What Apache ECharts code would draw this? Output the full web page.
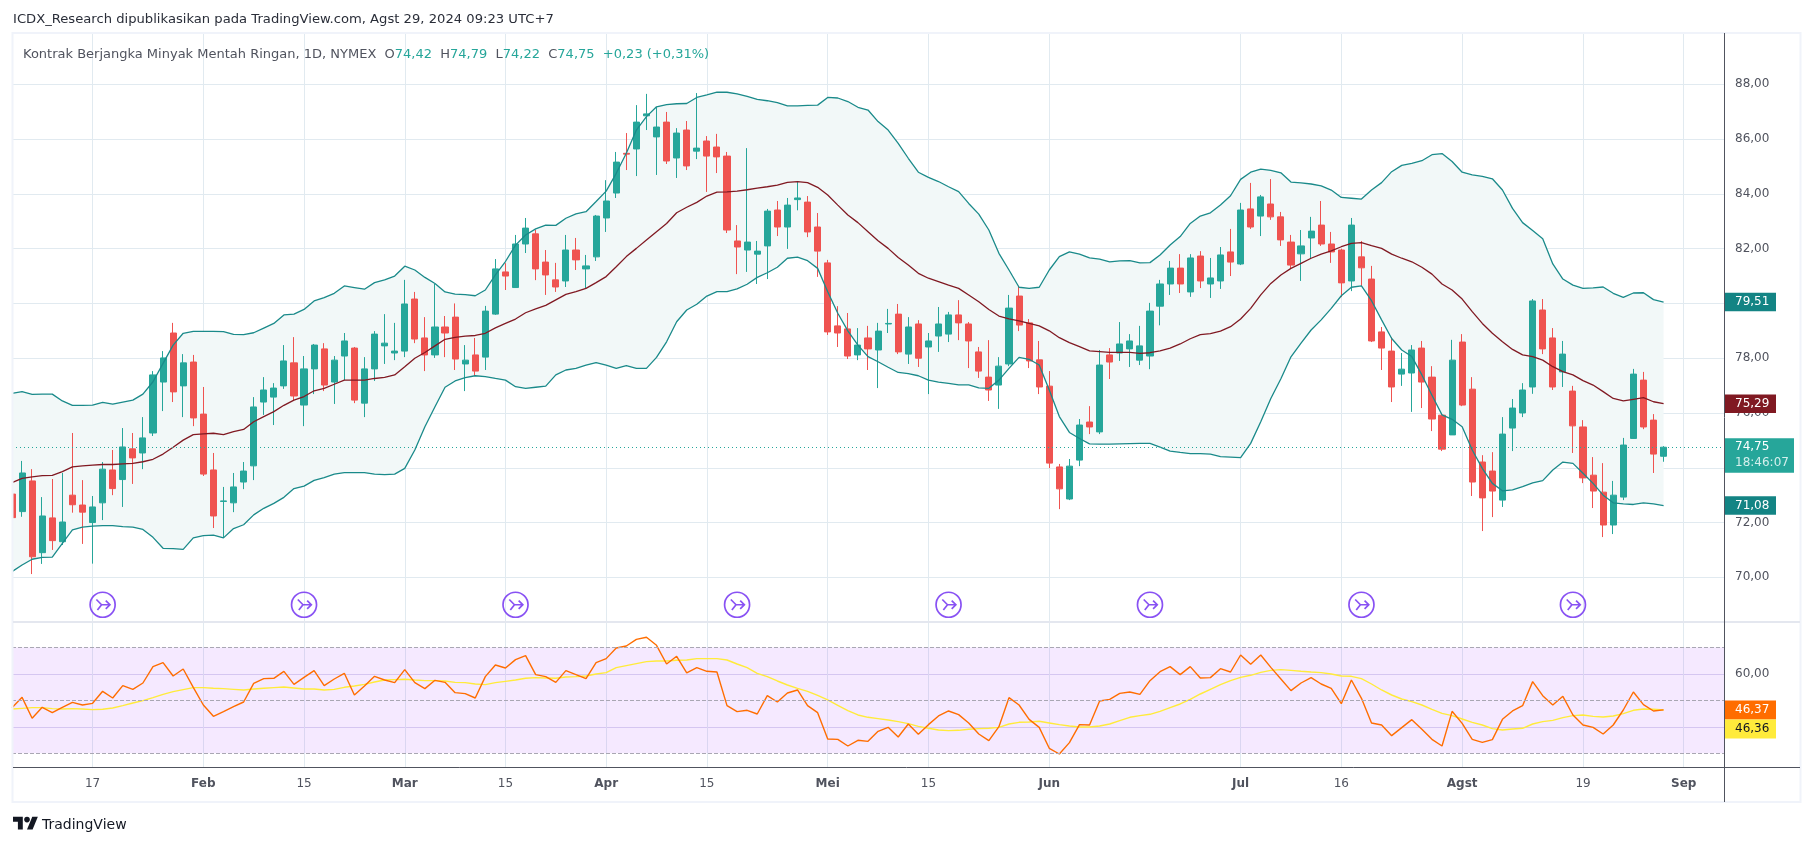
<!DOCTYPE html>
<html><head><meta charset="utf-8"><style>html,body{margin:0;padding:0;background:#fff;overflow:hidden}#c{width:1814px;height:846px}</style>
<script src="https://cdn.jsdelivr.net/npm/echarts@6/dist/echarts.min.js"></script></head><body><div id="c"></div>
<script>
const opens=[73.04,72.40,73.52,70.90,72.17,71.30,73.00,72.64,72.00,72.72,73.92,73.57,74.69,74.54,75.27,77.13,78.92,76.99,77.86,75.96,73.92,72.77,72.72,73.48,74.07,76.40,76.58,76.99,77.83,76.29,77.61,78.34,77.13,78.08,78.37,76.36,77.61,78.45,78.19,78.26,80.16,78.74,78.12,79.14,79.50,77.79,78.12,78.04,79.61,81.15,80.58,82.17,82.54,81.51,80.86,80.82,81.95,81.26,81.70,83.12,84.03,85.48,85.64,86.85,86.08,86.62,85.31,86.33,85.56,85.93,85.71,85.38,82.28,81.95,81.80,82.10,83.41,82.79,83.79,83.70,82.79,81.48,79.18,79.07,78.12,78.74,78.30,79.25,79.61,78.15,79.25,78.41,78.81,78.88,79.58,79.25,78.23,77.31,77.02,77.79,80.27,79.29,77.94,76.98,74.03,72.86,74.28,75.67,75.31,78.12,78.19,78.34,77.93,78.08,79.90,80.71,81.29,80.42,81.73,80.71,80.82,81.88,81.44,83.45,83.19,83.63,83.16,82.24,81.81,82.39,82.86,82.17,81.95,80.82,81.70,80.89,78.96,78.26,77.42,77.46,78.37,77.31,75.92,75.20,78.59,76.87,74.21,73.88,72.82,75.45,76.00,76.95,79.76,78.74,77.50,76.80,75.49,73.73,73.11,71.91,72.93,75.07,77.20,75.74,74.42];
const closes=[72.18,73.81,70.75,72.24,71.34,72.02,72.65,72.38,72.57,73.95,73.24,74.76,74.36,75.09,77.39,78.01,76.77,77.83,75.82,73.77,72.24,72.79,73.30,73.88,76.22,76.84,76.91,77.90,76.62,77.61,78.48,77.02,77.93,78.63,76.47,77.61,78.88,78.55,78.26,79.98,78.70,78.12,79.14,78.92,77.97,77.93,77.53,79.72,81.26,81.00,82.17,82.75,81.26,81.04,80.60,81.95,81.59,81.37,83.19,83.74,85.16,85.45,86.62,86.92,86.44,85.20,86.22,85.02,85.67,85.38,85.35,82.68,82.06,82.24,81.91,83.37,82.79,83.59,83.85,82.61,81.91,78.96,78.92,78.08,78.48,78.34,78.99,79.27,78.23,79.14,78.00,78.63,79.25,79.58,79.29,78.63,77.53,76.84,77.71,79.83,79.21,77.90,76.95,74.17,73.23,74.06,75.56,75.49,77.75,77.86,78.52,78.63,78.45,79.72,80.71,81.29,80.71,81.66,80.82,80.93,81.77,81.51,83.41,82.79,83.89,83.16,82.32,81.40,82.10,82.64,82.17,81.88,80.75,82.86,81.30,78.63,78.37,76.95,77.60,78.30,77.13,75.78,74.68,77.93,76.29,73.48,72.90,73.15,75.23,76.18,76.84,80.09,78.34,76.95,78.15,75.53,73.63,73.15,71.91,73.00,74.83,77.42,75.49,74.50,74.75];
const highs=[73.40,74.25,73.95,72.93,73.59,73.81,75.27,73.55,72.97,74.21,74.65,75.45,75.27,75.85,77.53,78.26,79.29,78.15,78.12,76.95,74.54,73.30,73.81,74.21,76.58,77.31,77.09,78.48,78.77,78.08,78.52,78.55,78.08,78.92,78.41,78.04,78.99,79.61,79.29,80.86,80.42,79.50,80.71,79.54,80.00,78.48,78.74,79.91,81.62,81.47,82.50,83.12,82.68,81.95,81.48,82.50,82.39,81.77,83.23,84.50,85.53,86.22,87.24,87.65,87.17,86.99,86.40,86.66,87.68,86.11,86.19,85.53,82.86,85.67,82.28,83.45,83.74,83.85,84.43,83.92,83.30,81.59,79.90,79.65,79.10,79.18,79.29,79.80,79.98,79.50,79.39,78.92,79.87,79.69,80.12,79.32,78.41,78.66,78.04,80.31,80.64,79.43,78.63,77.53,74.14,74.32,75.78,76.25,78.30,78.37,79.32,78.88,79.18,80.02,80.86,81.55,81.80,81.80,81.91,81.66,82.06,82.72,83.67,84.40,83.96,84.54,83.34,82.50,82.68,83.16,83.74,82.61,82.00,83.12,82.28,81.37,79.14,78.77,78.19,78.48,78.63,77.71,75.95,78.67,78.88,77.31,74.46,74.57,75.85,76.51,77.09,80.16,80.16,79.10,78.63,76.99,75.74,74.39,74.17,73.52,75.09,77.61,77.50,75.96,74.79];
const lows=[71.90,72.21,70.12,70.49,71.00,71.18,72.36,71.22,70.50,72.09,73.00,72.57,73.41,73.95,75.16,76.07,76.40,75.85,75.52,73.70,71.80,71.44,72.38,73.22,73.55,75.93,75.56,76.88,76.47,75.52,76.69,76.80,76.33,77.20,76.36,75.85,77.17,77.79,77.93,78.04,78.55,77.53,78.01,78.04,77.57,76.80,77.35,77.57,79.58,80.49,80.58,81.84,80.85,80.31,80.42,80.60,81.22,80.56,81.55,82.61,83.85,84.87,84.65,86.33,84.69,85.09,84.58,84.87,85.27,84.07,84.76,82.57,81.07,81.15,80.71,80.89,82.46,81.99,83.40,82.42,80.97,78.85,78.41,77.97,77.93,77.57,76.91,78.92,78.15,77.79,77.68,76.69,78.23,78.59,78.66,77.64,77.28,76.44,76.15,77.71,78.99,77.64,76.69,73.99,72.49,72.82,74.06,75.23,75.23,77.24,77.90,77.68,77.75,77.60,79.20,80.31,80.38,80.24,80.56,80.20,80.53,81.00,81.40,82.72,82.46,83.05,82.10,81.26,80.82,81.66,82.10,81.48,80.23,80.45,80.64,78.59,77.57,76.40,76.99,76.04,76.18,75.34,74.61,75.20,76.25,72.97,71.69,72.20,72.57,74.61,75.85,76.70,78.15,76.84,76.95,74.54,73.44,72.53,71.47,71.58,72.82,75.05,75.41,73.81,74.22];
const bbUpper=[76.72,76.78,76.68,76.69,76.69,76.44,76.28,76.28,76.29,76.39,76.32,76.40,76.47,76.69,77.14,77.81,78.48,78.91,78.98,78.98,78.98,78.97,78.87,78.86,78.93,79.10,79.27,79.58,79.61,79.78,80.09,80.21,80.37,80.64,80.58,80.52,80.76,80.86,81.00,81.36,81.22,80.95,80.73,80.42,80.34,80.32,80.28,80.49,81.04,81.53,82.13,82.50,82.72,82.86,82.85,83.11,83.27,83.35,83.72,84.10,84.75,85.48,86.33,86.82,87.18,87.26,87.29,87.30,87.52,87.61,87.71,87.71,87.65,87.56,87.45,87.40,87.33,87.21,87.21,87.23,87.24,87.52,87.50,87.37,87.16,87.06,86.64,86.33,85.84,85.30,84.79,84.60,84.45,84.26,84.08,83.65,83.26,82.68,81.83,81.22,80.59,80.55,80.59,81.22,81.71,81.88,81.80,81.66,81.62,81.52,81.55,81.56,81.48,81.49,81.77,82.13,82.44,82.92,83.19,83.31,83.59,83.93,84.53,84.79,84.90,84.86,84.77,84.43,84.40,84.36,84.29,84.14,83.87,83.84,83.81,84.14,84.41,84.81,85.04,85.11,85.21,85.43,85.47,85.18,84.79,84.69,84.64,84.55,84.14,83.47,82.95,82.66,82.36,81.44,80.89,80.67,80.55,80.57,80.60,80.37,80.22,80.38,80.39,80.14,80.05];
const bbBasis=[73.46,73.61,73.67,73.71,73.72,73.86,74.03,74.07,74.10,74.12,74.12,74.14,74.16,74.22,74.31,74.50,74.75,75.01,75.21,75.24,75.26,75.21,75.32,75.40,75.68,75.87,76.05,76.28,76.47,76.60,76.81,76.90,77.05,77.20,77.20,77.20,77.26,77.30,77.39,77.69,78.00,78.21,78.45,78.69,78.76,78.81,78.83,78.91,79.11,79.27,79.43,79.66,79.80,79.93,80.13,80.33,80.43,80.55,80.76,80.98,81.34,81.71,82.01,82.32,82.62,82.92,83.31,83.51,83.69,83.92,84.06,84.07,84.10,84.15,84.21,84.26,84.32,84.42,84.45,84.41,84.24,83.96,83.59,83.23,82.95,82.62,82.29,82.01,81.68,81.40,81.10,80.92,80.80,80.67,80.55,80.31,80.06,79.78,79.54,79.44,79.36,79.27,79.18,79.00,78.75,78.57,78.42,78.27,78.24,78.21,78.21,78.21,78.18,78.20,78.27,78.37,78.52,78.71,78.86,78.90,78.99,79.15,79.43,79.82,80.31,80.73,81.04,81.28,81.46,81.65,81.80,81.92,82.07,82.19,82.22,82.11,82.01,81.80,81.65,81.52,81.32,81.07,80.71,80.49,80.16,79.70,79.27,78.91,78.60,78.32,78.12,78.06,77.93,77.69,77.51,77.39,77.18,77.02,76.78,76.53,76.44,76.50,76.56,76.41,76.34];
const bbLower=[70.21,70.45,70.66,70.73,70.74,71.24,71.73,71.83,71.87,71.89,71.89,71.85,71.83,71.75,71.46,71.06,71.05,71.02,71.44,71.52,71.54,71.44,71.78,71.92,72.28,72.52,72.70,72.92,73.24,73.33,73.54,73.64,73.77,73.82,73.82,73.82,73.77,73.75,73.77,73.98,74.65,75.50,76.23,76.94,77.17,77.29,77.36,77.33,77.26,77.20,76.96,76.90,76.94,76.98,77.39,77.57,77.63,77.75,77.84,77.75,77.63,77.73,77.63,77.63,78.03,78.60,79.33,79.76,79.97,80.27,80.43,80.43,80.53,80.70,80.95,81.12,81.32,81.65,81.69,81.56,81.28,80.43,79.64,79.00,78.48,78.06,77.87,77.67,77.48,77.44,77.36,77.20,77.13,77.08,77.03,77.03,76.92,76.90,77.20,77.63,78.03,77.96,77.75,76.84,75.87,75.29,75.07,74.87,74.86,74.86,74.87,74.88,74.89,74.89,74.75,74.61,74.56,74.52,74.52,74.50,74.41,74.39,74.37,74.89,75.68,76.53,77.25,78.05,78.55,79.03,79.40,79.82,80.28,80.59,80.64,80.10,79.40,78.72,78.30,78.06,77.39,76.65,75.93,75.77,75.50,74.65,73.98,73.43,73.16,73.19,73.31,73.45,73.53,73.92,74.21,74.16,73.80,73.43,73.00,72.72,72.68,72.66,72.72,72.68,72.62];
const rsi=[47.22,51.12,43.20,47.35,45.34,47.35,49.24,48.23,48.86,53.39,50.87,55.53,54.14,56.53,62.70,64.21,59.17,61.82,54.90,48.23,43.95,45.72,47.60,49.36,56.41,58.17,58.30,60.94,56.03,58.67,61.19,55.53,58.04,60.18,52.00,55.40,59.05,57.66,56.66,61.56,56.66,54.40,57.54,56.78,52.89,52.51,50.87,58.92,63.32,62.19,65.34,66.85,59.68,58.92,56.78,61.19,59.68,58.17,64.21,65.72,69.74,70.50,73.01,73.77,70.75,63.70,66.60,60.31,62.32,60.94,60.68,47.98,45.72,46.22,44.83,51.75,49.36,52.76,53.89,47.98,45.34,35.40,35.27,32.76,34.90,34.52,38.30,39.80,36.16,41.06,37.16,40.81,44.08,45.97,44.58,41.44,37.29,34.77,40.05,51.00,48.23,42.82,39.80,31.88,29.74,34.02,40.81,40.68,49.74,50.37,52.63,53.14,52.26,57.41,60.81,62.70,59.68,62.70,58.42,58.55,61.94,60.68,67.10,63.58,67.10,62.44,58.04,53.64,56.53,58.55,56.15,54.52,48.73,57.66,50.75,41.44,40.68,36.66,39.68,42.69,39.05,35.27,32.76,45.84,41.31,35.27,34.14,35.15,42.82,45.97,47.98,57.04,51.75,48.23,51.50,44.46,40.68,39.80,37.29,40.68,46.34,53.14,48.36,45.97,46.37];
const rsiMa=[46.72,46.97,47.22,47.22,46.85,46.72,46.85,46.72,46.47,46.60,47.10,47.98,48.99,49.86,50.99,52.26,53.26,54.02,54.77,54.77,54.52,54.40,54.14,53.89,54.27,54.52,54.77,55.02,54.65,54.27,54.27,53.89,54.14,54.90,55.40,56.03,56.91,57.66,57.79,57.92,57.66,57.41,57.41,57.29,56.78,56.66,56.16,55.90,56.66,57.16,57.66,58.30,58.55,58.42,58.30,58.80,58.92,59.17,59.93,60.43,62.32,63.07,63.83,64.58,64.83,64.83,65.09,65.21,65.72,65.72,65.72,65.21,63.70,62.32,60.18,58.92,57.29,55.78,54.52,53.39,51.88,50.12,48.11,46.09,44.46,43.58,43.07,42.57,41.94,41.19,40.18,39.43,38.80,38.55,38.67,39.05,39.30,39.43,39.80,41.06,41.69,41.82,42.07,41.44,40.81,40.31,39.93,39.93,40.31,41.06,42.32,43.58,44.21,44.71,45.84,47.22,48.61,50.37,52.38,54.14,55.90,57.41,58.67,59.43,60.56,61.31,61.56,61.31,60.94,60.68,60.43,59.93,59.17,59.05,58.17,56.15,53.89,52.00,50.50,49.49,48.23,46.60,45.09,44.21,42.95,41.69,40.68,39.30,38.80,39.17,39.43,41.06,41.94,42.44,43.45,44.21,44.46,43.95,43.70,44.08,44.96,46.22,46.72,46.60,46.36];
const rolloverBars=[9,29,50,72,93,113,134,155];
const rolloverLevel=[69,69,69,69,69,69,69,69];
const holidays=['2024-01-15','2024-02-19','2024-03-29','2024-05-27','2024-06-19','2024-07-04'];
const tickLabels={'2024-01-17':'17','2024-02-01':'Feb','2024-02-15':'15','2024-03-01':'Mar','2024-03-15':'15','2024-04-01':'Apr','2024-04-15':'15','2024-05-01':'Mei','2024-05-15':'15','2024-06-03':'Jun','2024-07-01':'Jul','2024-07-16':'16','2024-08-01':'Agst','2024-08-19':'19','2024-09-02':'Sep'};
const monthLabels=['Feb','Mar','Apr','Mei','Jun','Jul','Agst','Sep'];
const lastValues={upper:'79,51',basis:'75,29',lower:'71,08',price:'74,75',countdown:'18:46:07',rsi:'46,37',rsiMa:'46,36'};
const titleText='ICDX_Research dipublikasikan pada TradingView.com, Agst 29, 2024 09:23 UTC+7';
const legendName='Kontrak Berjangka Minyak Mentah Ringan, 1D, NYMEX';
const ohlcText=['74,42','74,79','74,22','74,75','+0,23 (+0,31%)'];

[opens,closes,highs,lows,bbUpper,bbBasis,bbLower,rsi,rsiMa].forEach((a,k)=>{if(a.length!==165)throw new Error('len '+k+' '+a.length)});

const categories=[];
for(let d=new Date(Date.UTC(2024,0,4));categories.length<171;d=new Date(d.getTime()+864e5)){
  const w=d.getUTCDay(),s=d.toISOString().slice(0,10);
  if(w!==0&&w!==6&&!holidays.includes(s))categories.push(s);
}
const candles=opens.map((o,i)=>[o,closes[i],lows[i],highs[i]]);
const bandDiff=bbUpper.map((u,i)=>+(u-bbLower[i]).toFixed(2));
const rollover=rolloverBars.map((b,i)=>[b,rolloverLevel[i]]);
const GRID='#e1eaf0',UP='#26a69a',DOWN='#ef5350',TXT='#50535e',TEAL='#1a8a8a',FONT='"DejaVu Sans",sans-serif';
const L=12,W=1712;
const fmt=v=>v.toFixed(2).replace('.',',');
const ICON='path://M13 1a12 12 0 1 0 0.01 0M7 8L12 13L20 13M16 9L20 13L16 17M12 13L8 18';
const hideX={show:false};
const option={
 animation:false,backgroundColor:'#fff',
 grid:[{left:L,width:W,top:33,height:734},{left:L,width:W,top:29.52,height:602.6},{left:L,width:W,top:620.8,height:159}],
 xAxis:[
  {type:'category',gridIndex:0,data:categories,boundaryGap:false,axisTick:hideX,
   axisLine:{show:false},
   splitLine:{show:true,interval:(i,v)=>v in tickLabels,lineStyle:{color:GRID,width:1}},
   axisLabel:{show:true,interval:(i,v)=>v in tickLabels,margin:11,fontFamily:FONT,fontSize:12,color:TXT,
    formatter:v=>{const t=tickLabels[v]||'';return monthLabels.includes(t)?'{b|'+t+'}':t},
    rich:{b:{fontFamily:FONT,fontSize:12,fontWeight:'bold',color:TXT}}}},
  {type:'category',gridIndex:1,data:categories,boundaryGap:false,show:false},
  {type:'category',gridIndex:2,data:categories,boundaryGap:false,show:false}
 ],
 yAxis:[
  {type:'value',gridIndex:0,min:0,max:1,show:false,splitLine:hideX},
  {type:'value',gridIndex:1,position:'right',min:68,max:90,interval:2,axisLine:hideX,axisTick:hideX,
   splitLine:{show:true,showMinLine:false,showMaxLine:false,lineStyle:{color:GRID,width:1}},
   axisLabel:{showMinLabel:false,showMaxLabel:false,margin:11,fontFamily:FONT,fontSize:12,color:TXT,formatter:fmt}},
  {type:'value',gridIndex:2,position:'right',min:20,max:80,interval:20,axisLine:hideX,axisTick:hideX,
   splitLine:{show:true,showMinLine:false,showMaxLine:false,lineStyle:{color:'#dcd9f0',width:1}},
   axisLabel:{showMinLabel:false,showMaxLabel:false,margin:11,fontFamily:FONT,fontSize:12,color:TXT,formatter:fmt}}
 ],
 series:[
  {name:'bandBase',type:'line',xAxisIndex:1,yAxisIndex:1,data:bbLower,stack:'bb',showSymbol:false,lineStyle:{width:0},silent:true,z:1},
  {name:'bandFill',type:'line',xAxisIndex:1,yAxisIndex:1,data:bandDiff,stack:'bb',showSymbol:false,lineStyle:{width:0},areaStyle:{color:'#f2f8f8',opacity:1},silent:true,z:1},
  {name:'candles',type:'candlestick',xAxisIndex:1,yAxisIndex:1,data:candles,barWidth:6.6,z:2,silent:true,
   itemStyle:{color:UP,color0:DOWN,borderColor:UP,borderColor0:DOWN,borderWidth:1},
   markLine:{silent:true,symbol:'none',label:{show:false},lineStyle:{type:[1,3],color:UP,width:1},data:[{yAxis:closes[closes.length-1]}]}},
  {name:'upper',type:'line',xAxisIndex:1,yAxisIndex:1,data:bbUpper,showSymbol:false,lineStyle:{color:TEAL,width:1.3},silent:true,z:3},
  {name:'basis',type:'line',xAxisIndex:1,yAxisIndex:1,data:bbBasis,showSymbol:false,lineStyle:{color:'#801922',width:1.3},silent:true,z:3},
  {name:'lower',type:'line',xAxisIndex:1,yAxisIndex:1,data:bbLower,showSymbol:false,lineStyle:{color:TEAL,width:1.3},silent:true,z:3},
  {name:'rollover',type:'scatter',xAxisIndex:1,yAxisIndex:1,data:rollover,symbol:ICON,symbolSize:25,silent:true,z:4,
   itemStyle:{color:'rgba(0,0,0,0)',borderColor:'#6a25f0',borderWidth:1.7}},
  {name:'rsiMa',type:'line',xAxisIndex:2,yAxisIndex:2,data:rsiMa,showSymbol:false,lineStyle:{color:'#ffeb3b',width:1.4},silent:true,z:3},
  {name:'rsi',type:'line',xAxisIndex:2,yAxisIndex:2,data:rsi,showSymbol:false,lineStyle:{color:'#ff6d00',width:1.4},silent:true,z:4,
   markArea:{silent:true,itemStyle:{color:'rgba(156,39,255,0.1)'},data:[[{yAxis:70},{yAxis:30}]]},
   markLine:{silent:true,symbol:'none',label:{show:false},lineStyle:{type:'dashed',color:'#a9a7b3',width:1},data:[{yAxis:70},{yAxis:50},{yAxis:30}]}}
 ]
};
const chart=echarts.init(document.getElementById('c'),null,{renderer:'canvas'});
chart.setOption(option);
const py=(v)=>chart.convertToPixel({yAxisIndex:1},v);
const ry=(v)=>chart.convertToPixel({yAxisIndex:2},v);
const last=bbUpper.length-1;
const badge=(y,h,w,fill)=>({type:'rect',z:100,shape:{x:1725,y:y-h/2,width:w,height:h},style:{fill}});
const txt=(x,y,t,fill,size,extra)=>({type:'text',z:101,x,y,style:Object.assign({text:t,fill,fontFamily:FONT,fontSize:size||12,verticalAlign:'middle'},extra||{})});
const pY=py(closes[last]),rY=ry(rsi[last]);
const G='#f0f3fa',K='#131722';
const logoScale=0.7,logoX=13,logoY=814;
const lp=(pts)=>pts.map(p=>[logoX+p[0]*logoScale,logoY+p[1]*logoScale]);
chart.setOption({graphic:[
 {type:'rect',z:80,shape:{x:0,y:30,width:12,height:600},style:{fill:'#fff'}},
 {type:'rect',z:90,shape:{x:12.5,y:33,width:1788,height:769},style:{fill:'none',stroke:G,lineWidth:2}},
 {type:'line',z:91,shape:{x1:13,y1:622,x2:1800,y2:622},style:{stroke:'#e4e7ef',lineWidth:2}},
 {type:'line',z:91,shape:{x1:13,y1:767.5,x2:1800,y2:767.5},style:{stroke:'#50535e',lineWidth:1}},
 {type:'line',z:91,shape:{x1:1724.5,y1:33,x2:1724.5,y2:802},style:{stroke:'#50535e',lineWidth:1}},
 txt(13,20,titleText,'#2a2e39',13.15),
 {type:'text',z:101,x:23,y:55,style:{text:'{g|'+legendName+'  O}{t|'+ohlcText[0]+'}{g|  H}{t|'+ohlcText[1]+'}{g|  L}{t|'+ohlcText[2]+'}{g|  C}{t|'+ohlcText[3]+'}{t|  '+ohlcText[4]+'}',verticalAlign:'middle',
   rich:{g:{fill:TXT,fontFamily:FONT,fontSize:13},t:{fill:UP,fontFamily:FONT,fontSize:13}}}},
 badge(py(bbUpper[last]),18.5,51,'#138484'),txt(1735,py(bbUpper[last]),lastValues.upper,'#fff'),
 badge(py(bbBasis[last]),18.5,51,'#801922'),txt(1735,py(bbBasis[last]),lastValues.basis,'#fff'),
 badge(py(bbLower[last]),18.5,51,'#138484'),txt(1735,py(bbLower[last]),lastValues.lower,'#fff'),
 {type:'rect',z:102,shape:{x:1725,y:pY-9,width:69,height:34.5},style:{fill:UP}},
 Object.assign(txt(1735,pY,lastValues.price,'#fff'),{z:103}),
 Object.assign(txt(1735,pY+16,lastValues.countdown,'#d4efec'),{z:103}),
 badge(rY,19,51,'#ff6d00'),txt(1735,rY,lastValues.rsi,'#fff'),
 badge(rY+19,19,51,'#ffeb3b'),txt(1735,rY+19,lastValues.rsiMa,K),
 {type:'polygon',z:101,shape:{points:lp([[14,22],[7,22],[7,11],[0,11],[0,4],[14,4]])},style:{fill:K}},
 {type:'polygon',z:101,shape:{points:lp([[28,22],[20,22],[27.5,4],[35.5,4]])},style:{fill:K}},
 {type:'circle',z:101,shape:{cx:logoX+20*logoScale,cy:logoY+8*logoScale,r:4*logoScale},style:{fill:K}},
 txt(42,825,'TradingView',K,14)
]});
</script></body></html>
